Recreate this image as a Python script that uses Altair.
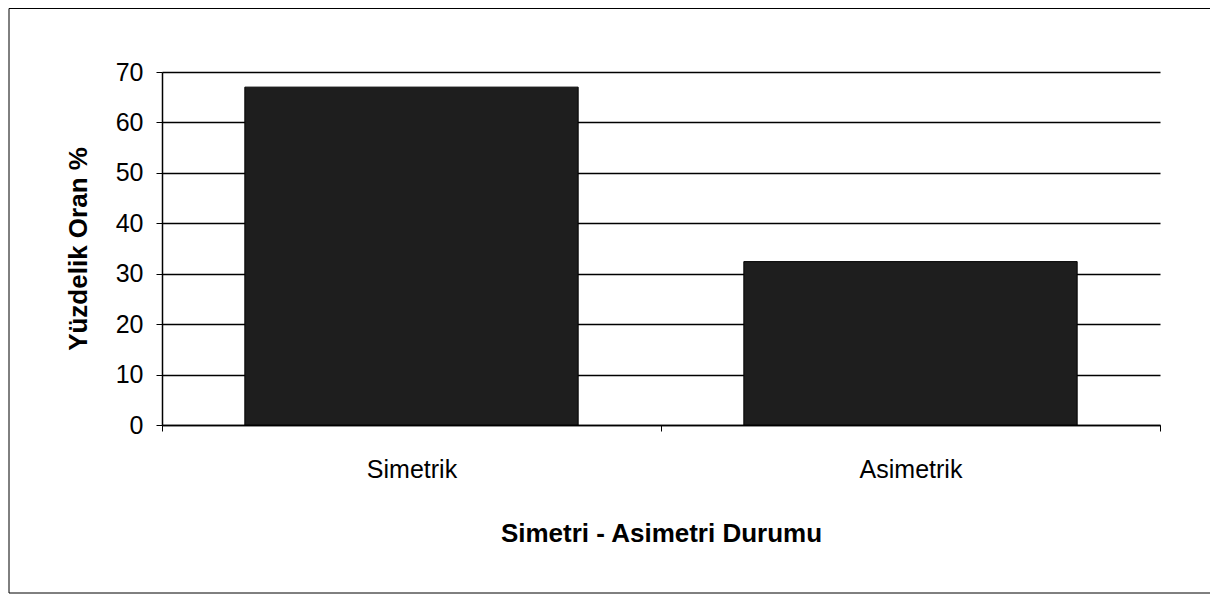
import altair as alt
import pandas as pd

categories = ["Simetrik", "Asimetrik"]
values = [67.0, 32.4]
y_ticks = [0, 10, 20, 30, 40, 50, 60, 70]

df = pd.DataFrame({"cat": categories, "val": values})

W, H = 998, 353

bars = alt.Chart(df).mark_bar(color="#1e1e1e", stroke="#000000", strokeWidth=1,
                              width=alt.RelativeBandSize(0.668)).encode(
    x=alt.X("cat:N", sort=categories, title="Simetri - Asimetri Durumu",
            scale=alt.Scale(paddingInner=0, paddingOuter=0),
            axis=alt.Axis(labelAngle=0, labelFont="Liberation Sans", labelFontSize=25,
                          labelColor="#000", labelPadding=26, tickBand="extent",
                          tickSize=6, tickColor="#000", domainColor="#000", domainWidth=1.5,
                          titleFont="Liberation Sans", titleFontSize=26, titleFontWeight="bold",
                          titleColor="#000", titlePadding=38)),
    y=alt.Y("val:Q", title="Yüzdelik Oran %",
            scale=alt.Scale(domain=[0, 70], nice=False),
            axis=alt.Axis(values=y_ticks, grid=True, gridColor="#000", gridWidth=1.3,
                          labelFont="Liberation Sans", labelFontSize=25, labelColor="#000",
                          labelPadding=13, tickSize=6, tickColor="#000", domainColor="#000",
                          domainWidth=1.5,
                          titleFont="Liberation Sans", titleFontSize=26, titleFontWeight="bold",
                          titleColor="#000", titlePadding=24)),
)

frame = alt.Chart(pd.DataFrame({"a": [0]})).mark_rect(
    fill=None, stroke="#000", strokeWidth=1, clip=False
).encode(
    x=alt.value(-153), x2=alt.value(W + 51),
    y=alt.value(-63.5), y2=alt.value(H + 168),
)

chart = alt.layer(frame, bars).properties(
    width=W, height=H,
    padding={"left": 154, "top": 64, "right": 50, "bottom": 170},
    autosize=alt.AutoSizeParams(type="none"),
    background="white",
).configure_view(stroke=None)

chart.save("out.html", embed_options={"renderer": "svg", "actions": False})
